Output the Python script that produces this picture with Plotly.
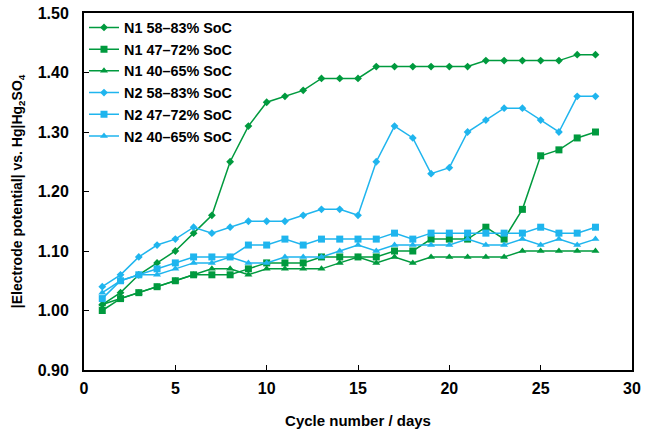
import plotly.graph_objects as go

cycles = list(range(1, 29))

n1_58_83 = [1.01, 1.03, 1.06, 1.08, 1.10, 1.13, 1.16, 1.25, 1.31, 1.35, 1.36, 1.37, 1.39, 1.39,
            1.39, 1.41, 1.41, 1.41, 1.41, 1.41, 1.41, 1.42, 1.42, 1.42, 1.42, 1.42, 1.43, 1.43]
n1_47_72 = [1.00, 1.02, 1.03, 1.04, 1.05, 1.06, 1.06, 1.06, 1.07, 1.08, 1.08, 1.08, 1.09, 1.09,
            1.09, 1.09, 1.10, 1.10, 1.12, 1.12, 1.12, 1.14, 1.12, 1.17, 1.26, 1.27, 1.29, 1.30]
n1_40_65 = [1.01, 1.02, 1.03, 1.04, 1.05, 1.06, 1.07, 1.07, 1.06, 1.07, 1.07, 1.07, 1.07, 1.08,
            1.09, 1.08, 1.09, 1.08, 1.09, 1.09, 1.09, 1.09, 1.09, 1.10, 1.10, 1.10, 1.10, 1.10]
n2_58_83 = [1.04, 1.06, 1.09, 1.11, 1.12, 1.14, 1.13, 1.14, 1.15, 1.15, 1.15, 1.16, 1.17, 1.17,
            1.16, 1.25, 1.31, 1.29, 1.23, 1.24, 1.30, 1.32, 1.34, 1.34, 1.32, 1.30, 1.36, 1.36]
n2_47_72 = [1.02, 1.05, 1.06, 1.07, 1.08, 1.09, 1.09, 1.09, 1.11, 1.11, 1.12, 1.11, 1.12, 1.12,
            1.12, 1.12, 1.13, 1.12, 1.13, 1.13, 1.13, 1.13, 1.13, 1.13, 1.14, 1.13, 1.13, 1.14]
n2_40_65 = [1.03, 1.05, 1.06, 1.06, 1.07, 1.08, 1.08, 1.09, 1.08, 1.08, 1.09, 1.09, 1.09, 1.10,
            1.11, 1.10, 1.11, 1.11, 1.11, 1.11, 1.12, 1.11, 1.11, 1.12, 1.11, 1.12, 1.11, 1.12]

labels = ["N1 58\u201383% SoC", "N1 47\u201372% SoC", "N1 40\u201365% SoC",
          "N2 58\u201383% SoC", "N2 47\u201372% SoC", "N2 40\u201365% SoC"]
series = [n1_58_83, n1_47_72, n1_40_65, n2_58_83, n2_47_72, n2_40_65]

green = "#009A3E"
blue = "#1FB5EE"
colors = [green, green, green, blue, blue, blue]
symbols = ["diamond", "square", "triangle-up", "diamond", "square", "triangle-up"]
sizes = [6, 7, 7, 6, 7, 7]

fig = go.Figure()
for lab, ys, c, s, sz in zip(labels, series, colors, symbols, sizes):
    fig.add_trace(go.Scatter(
        x=cycles, y=ys, name=lab, mode="lines+markers",
        line=dict(color=c, width=1.5),
        marker=dict(symbol=s, size=sz, color=c),
    ))

font = "Liberation Sans, Arial, sans-serif"
fig.update_layout(
    width=645, height=433,
    margin=dict(l=84, r=13, t=13, b=63),
    plot_bgcolor="white", paper_bgcolor="white",
    font=dict(family=font, size=14, color="black"),
    showlegend=True,
    legend=dict(x=0.0, y=1.004, xanchor="left", yanchor="top",
                bgcolor="rgba(0,0,0,0)", font=dict(size=14.4, family=font, weight="bold"),
                tracegroupgap=0, itemwidth=30),
)
fig.update_xaxes(
    range=[0, 30], dtick=5, tick0=0, showgrid=False, zeroline=False, automargin=False,
    showline=True, linecolor="black", linewidth=2, mirror=True,
    ticks="inside", ticklen=5, tickcolor="black", tickwidth=1, ticklabelstandoff=3,
    tickfont=dict(size=16, family=font, weight="bold"),
    title=dict(text="Cycle number / days", font=dict(size=15, family=font, weight="bold"), standoff=19),
)
fig.update_yaxes(
    range=[0.9, 1.5], dtick=0.1, tickformat=".2f", showgrid=False, zeroline=False, automargin=False,
    showline=True, linecolor="black", linewidth=2, mirror=True,
    ticks="inside", ticklen=5, tickcolor="black", tickwidth=1, ticklabelstandoff=10,
    tickfont=dict(size=16, family=font, weight="bold"),
    title=dict(text="|Electrode potential| vs. Hg|Hg<sub>2</sub>SO<sub>4</sub>",
               font=dict(size=14, family=font, weight="bold"), standoff=12),
)
fig.write_html("out.html", config={"displayModeBar": False},
               post_script="document.body.style.margin='0';")
